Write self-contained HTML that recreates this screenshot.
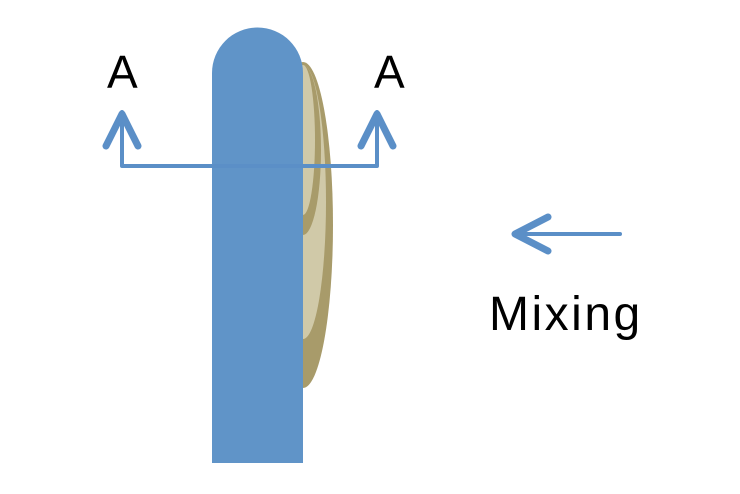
<!DOCTYPE html>
<html><head><style>
html,body{margin:0;padding:0;background:#fff;}
svg{display:block;}
text{font-family:"Liberation Sans",sans-serif;fill:#000;}
</style></head><body>
<svg width="740" height="494" viewBox="0 0 740 494">
  <ellipse cx="303" cy="225" rx="30" ry="163" fill="#a89b6a"/>
  <ellipse cx="303" cy="202" rx="23" ry="137" fill="#d0c9a8"/>
  <ellipse cx="303" cy="150" rx="18" ry="85" fill="#a89b6a"/>
  <ellipse cx="303" cy="140" rx="12" ry="75" fill="#d0c9a8"/>
  <path d="M212 463 V73 A45.5 45.5 0 0 1 303 73 V463 Z" fill="#6094c8"/>
  <g stroke="#5b8fc7" fill="none" stroke-linecap="round" stroke-linejoin="round">
    <polyline points="122,112 122,166 377,166 377,112" stroke-width="4"/>
    <polyline points="106,146 122,114 138,146" stroke-width="7"/>
    <polyline points="361,146 377,114 393,146" stroke-width="7"/>
    <line x1="516" y1="234" x2="620" y2="234" stroke-width="4"/>
    <polyline points="548,217 515,234 548,251" stroke-width="7"/>
  </g>
  <text x="107" y="88" font-size="46">A</text>
  <text x="374" y="88" font-size="46">A</text>
  <text x="489" y="330" font-size="48" letter-spacing="2.5">Mixing</text>
</svg>
</body></html>
